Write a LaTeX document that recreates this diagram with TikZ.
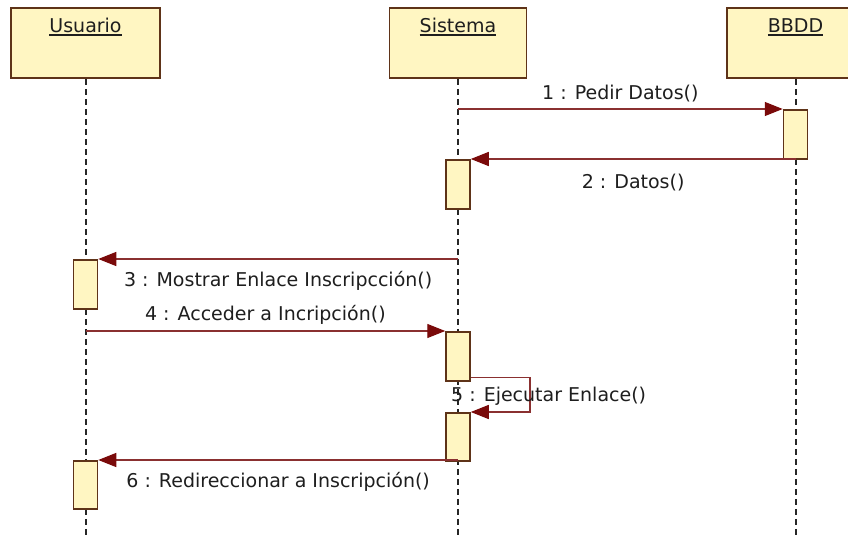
\documentclass[tikz,border=0pt]{standalone}
\usepackage{fontspec}
\setmainfont{DejaVu Sans}
\usepackage{xcolor}
\usepackage{tikz}
\usetikzlibrary{arrows.meta,positioning}
\definecolor{SeqYellow}{HTML}{FFF6C2}
\definecolor{SeqBrown}{HTML}{5E3318}
\definecolor{SeqRed}{HTML}{7A0A0A}
\definecolor{SeqLine}{HTML}{8A3030}
\definecolor{SeqDark}{HTML}{1E1E1E}
\newcommand{\headname}[1]{\setbox0=\hbox{#1}\rlap{\copy0}\rule[-2.6pt]{\wd0}{1.3pt}}
\tikzset{
  headbox/.style={draw=SeqBrown,line width=1.5pt,fill=SeqYellow,inner sep=0pt,minimum height=70pt,text height=25pt,text depth=45pt,font=\fontsize{19}{23}\selectfont,text=SeqDark},
  actbox/.style={draw=SeqBrown,line width=1.5pt,fill=SeqYellow,minimum width=24pt,minimum height=49pt,inner sep=0pt},
  lifeline/.style={line width=2pt,draw=black!85,dash pattern=on 6pt off 4pt},
  msgarrow/.style={-{Triangle[length=18pt,width=14pt,color=SeqRed]},line width=1.4pt,draw=SeqLine},
  msglabel/.style={inner sep=0pt,font=\fontsize{19}{23}\selectfont,text=SeqDark}
}
\begin{document}
\begin{tikzpicture}[x=1pt,y=-1pt]
\useasboundingbox (0,0) rectangle (848,535);
\clip (0,0) rectangle (848,535);
\fill[white] (0,0) rectangle (848,535);
\coordinate (bottom) at (0,535);
\node[headbox,minimum width=149pt] (Usuario) at (85.5,43) {\headname{Usuario}};
\node[headbox,minimum width=137pt,right=228pt of Usuario] (Sistema) {\headname{Sistema}};
\node[headbox,minimum width=137pt,right=199pt of Sistema] (BBDD) {\headname{BBDD}};
\draw[lifeline] (Usuario.south) -- (Usuario.south |- bottom);
\draw[lifeline] (Sistema.south) -- (Sistema.south |- bottom);
\draw[lifeline] (BBDD.south) -- (BBDD.south |- bottom);
\node[actbox,anchor=north] (ba1) at (BBDD |- 0,109) {};
\node[actbox,anchor=north] (sa1) at (Sistema |- 0,159) {};
\node[actbox,anchor=north] (ua1) at (Usuario |- 0,259) {};
\node[actbox,anchor=north] (sa2) at (Sistema |- 0,331) {};
\node[actbox,anchor=north,minimum height=48pt] (sa3) at (Sistema |- 0,412) {};
\node[actbox,anchor=north,minimum height=48pt] (ua2) at (Usuario |- 0,460) {};
\draw[msgarrow] (Sistema |- ba1.north) -- node[msglabel,above=6pt] (l1) {1 : Pedir Datos()} (ba1.north west);
\draw[msgarrow] (BBDD |- sa1.north) -- node[msglabel,below=14pt] (l2) {2 : Datos()} (sa1.north east);
\draw[msgarrow] (Sistema |- ua1.north) -- node[msglabel,below=12pt] (l3) {3 : Mostrar Enlace Inscripcción()} (ua1.north east);
\draw[msgarrow] (Usuario |- sa2.north) -- node[msglabel,above=6pt] (l4) {4 : Acceder a Incripción()} (sa2.north west);
\coordinate (loop5) at (530,393);
\draw[msgarrow] ([yshift=4pt]sa2.south east) -| (loop5) |- (sa3.north east);
\node[msglabel,anchor=base west] (l5) at (451,401) {5 : Ejecutar Enlace()};
\draw[msgarrow] (Sistema |- ua2.north) -- node[msglabel,below=12pt] (l6) {6 : Redireccionar a Inscripción()} (ua2.north east);
\end{tikzpicture}
\end{document}
